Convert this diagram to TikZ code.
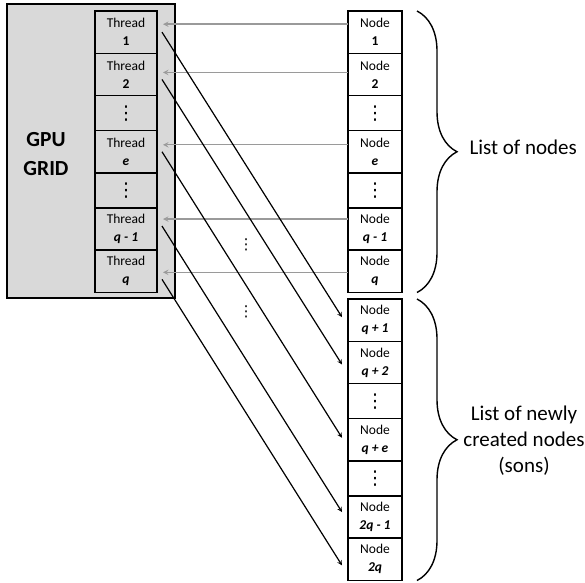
\documentclass[tikz,border=0pt]{standalone}
\usepackage{fontspec}
\setmainfont{Carlito}
\newfontfamily\symfont{DejaVu Sans}
\usepackage{tikz}
\usetikzlibrary{arrows,positioning,decorations.pathreplacing}
\definecolor{gridGray}{HTML}{D9D9D9}
\definecolor{linkGray}{HTML}{9A9A9A}
\newcommand{\idx}[1]{\textbf{\textit{#1}}}
\newcommand{\skipdots}{{\symfont\fontsize{19}{19}\selectfont ⋮}}

\begin{document}
\begin{tikzpicture}[
    x=1pt, y=-1pt,
    node distance = 0pt,
    align=center,
    cell/.style = {rectangle, draw, line width=1.5pt, inner sep=0pt, outer sep=0pt, minimum width=62pt, minimum height=42.3pt, font=\fontsize{13.5}{18}\selectfont},
    gap/.style = {cell, minimum height=35pt},
    thread/.style = {fill=gridGray},
    item/.style = {minimum width=54pt, fill=white},
    load/.style = {->, >=stealth, line width=1.4pt, color=linkGray},
    spawn/.style = {->, >=stealth, line width=1.2pt},
    list/.style = {decorate, decoration={brace, amplitude=40pt}, line width=1.4pt},
    caption/.style = {font=\fontsize{21}{26}\selectfont}
]
    \useasboundingbox (0,0) rectangle (585,582);

    % GPU grid and its threads
    \node [draw, line width=1.6pt, fill=gridGray, minimum width=168pt, minimum height=294pt] (grid) at (91,151) {};
    \node [font=\fontsize{21.5}{29}\selectfont\bfseries] (gridname) at (46,154) {GPU\\GRID};

    \node [cell, thread] (t1) at (126,32.15) {Thread\\\textbf{1}};
    \node [cell, thread, below=of t1] (t2) {Thread\\\textbf{2}};
    \node [gap, thread, below=of t2] (td1) {\skipdots};
    \node [cell, thread, below=of td1] (te) {Thread\\\idx{e}};
    \node [gap, thread, below=of te] (td2) {\skipdots};
    \node [cell, thread, below=of td2] (tq1) {Thread\\\idx{q - 1}};
    \node [cell, thread, below=of tq1] (tq) {Thread\\\idx{q}};

    % current list of nodes
    \node [cell, item] (n1) at (375,32.15) {Node\\\textbf{1}};
    \node [cell, item, below=of n1] (n2) {Node\\\textbf{2}};
    \node [gap, item, below=of n2] (nd1) {\skipdots};
    \node [cell, item, below=of nd1] (ne) {Node\\\idx{e}};
    \node [gap, item, below=of ne] (nd2) {\skipdots};
    \node [cell, item, below=of nd2] (nq1) {Node\\\idx{q - 1}};
    \node [cell, item, below=of nq1] (nq) {Node\\\idx{q}};

    % sons
    \node [cell, item] (s1) at (375,320.15) {Node\\\idx{q + 1}};
    \node [cell, item, below=of s1] (s2) {Node\\\idx{q + 2}};
    \node [gap, item, below=of s2] (sd1) {\skipdots};
    \node [cell, item, below=of sd1] (se) {Node\\\idx{q + e}};
    \node [gap, item, below=of se] (sd2) {\skipdots};
    \node [cell, item, below=of sd2] (sq1) {Node\\\idx{2q - 1}};
    \node [cell, item, below=of sq1] (sq) {Node\\\idx{2q}};

    % braces
    \draw [list] ([xshift=15pt]n1.north east) -- ([xshift=15pt]nq.south east);
    \draw [list] ([xshift=15pt]s1.north east) -- ([xshift=15pt]sq.south east);
    \node [caption, anchor=west] (oldlist) at (466,147) {List of nodes};
    \node [caption] (newlist) at (524,441) {List of newly\\created nodes\\(sons)};

    % Connections
    \foreach \row/\dy in {1/8, 2/2, e/7, q1/10, q/-1}
        \draw [load] ([yshift=\dy pt]n\row.west) -- ([xshift=6pt, yshift=\dy pt]t\row.east);
    \foreach \src/\sy/\dst/\dy in {t1/0/s1/3, t2/-5/s2/-2, te/0/se/2, tq1/3/sq1/5, tq/-8/sq/-6}
        \draw [spawn] ([xshift=5pt, yshift=\sy pt]\src.east) -- ([xshift=-6pt, yshift=\dy pt]\dst.west);

    \node [font=\symfont\fontsize{15}{15}\selectfont] (skipa) at (246,245) {⋮};
    \node [font=\symfont\fontsize{15}{15}\selectfont] (skipb) at (246,312) {⋮};
\end{tikzpicture}
\end{document}
